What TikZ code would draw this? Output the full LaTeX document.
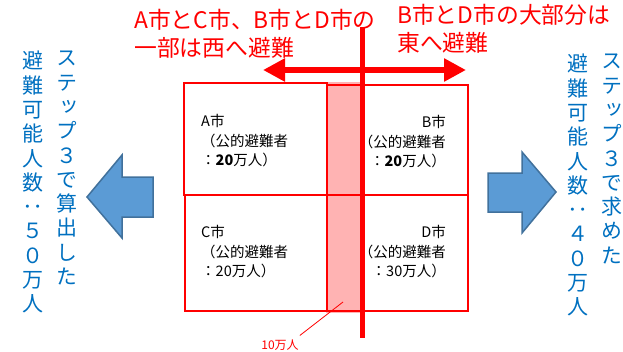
\documentclass[tikz,border=0pt]{standalone}
\usepackage{fontspec}
\setmainfont{Noto Sans CJK JP}
\newfontfamily\jpvert[RawFeature=+vert]{Noto Sans CJK JP}
\usetikzlibrary{arrows.meta, positioning, calc}
\definecolor{cred}{HTML}{FF0000}
\definecolor{cblue}{HTML}{0070C0}
\definecolor{cpink}{HTML}{FFB3B3}
\definecolor{cfill}{HTML}{5B9BD5}
\definecolor{cedge}{HTML}{41719C}
\tikzset{
  heading/.style={text=cred, font=\fontsize{22.8}{28}\selectfont, align=left, inner sep=0pt, anchor=west},
  city/.style={draw=cred, line width=2pt, anchor=north west, inner sep=0pt},
  citytext/.style={font=\fontsize{14.5}{19.5}\selectfont, inner sep=0pt},
  vcol/.style={text=cblue, font=\jpvert\fontsize{21}{24.3}\selectfont, align=center, inner sep=0pt, anchor=north},
  bigarrow/.style={draw=cedge, fill=cfill, line width=1.5pt, line join=miter},
  redline/.style={draw=cred, line width=5pt},
}

\begin{document}
\begin{tikzpicture}[x=1pt, y=-1pt]
  \useasboundingbox (0,0) rectangle (623,351);
  % headings
  \node[heading] (westNote) at (134,34) {A市とC市、B市とD市の\\一部は西へ避難};
  \node[heading] (eastNote) at (397,28.5) {B市とD市の大部分は\\東へ避難};
  % strip of the 10万人
  \fill[cpink] (326,82) rectangle (362,313);
  % cities
  \node[city, minimum width=143, minimum height=112] (boxA) at (183,82) {};
  \node[city, minimum width=141, minimum height=110] (boxB) at (326,84) {};
  \node[city, minimum width=142, minimum height=116] (boxC) at (184,194) {};
  \node[city, minimum width=141, minimum height=116] (boxD) at (326,194) {};
  \node[citytext, anchor=west, align=left] (txtA) at (201,141) {A市\\（公的避難者\\：\textbf{20}万人）};
  \node[citytext, anchor=east, align=right] (txtB) at (446,142) {B市\\（公的避難者\\：\textbf{20}万人）};
  \node[citytext, anchor=west, align=left] (txtC) at (201,252) {C市\\（公的避難者\\：20万人）};
  \node[citytext, anchor=east, align=right] (txtD) at (446,252) {D市\\（公的避難者\\：30万人）};
  % dividing line and arrow
  \coordinate (divTop) at (362,27);
  \coordinate (divBot) at (362,338);
  \coordinate (westTip) at (263,70);
  \coordinate (eastTip) at (466,70);
  \draw[redline, line width=6pt, {Triangle[length=22pt,width=22pt]}-{Triangle[length=22pt,width=22pt]}] (westTip) -- (eastTip);
  \draw[redline] (divTop) -- (divBot);
  % label of the strip
  \node[text=cred, font=\fontsize{12}{14}\selectfont, inner sep=1pt] (stripLbl) at (280,345) {10万人};
  \coordinate (stripPt) at (343,302);
  \draw[cred, line width=0.8pt] ([yshift=3pt]stripLbl.north east) -- (stripPt);
  % blue arrows
  \draw[bigarrow] (87,197) -- (122,155) -- (122,177) -- (153,177) -- (153,217) -- (122,217) -- (122,238) -- cycle;
  \draw[bigarrow] (556,192) -- (522,152) -- (522,173) -- (488,173) -- (488,212) -- (522,212) -- (522,233) -- cycle;
  % vertical notes
  \node[vcol] (stepL) at (67,51) {ス\\テ\\ッ\\プ\\３\\で\\算\\出\\し\\た};
  \node[vcol] (numL) at (33,51) {避\\難\\可\\能\\人\\数\\：\\５\\０\\万\\人};
  \node[vcol] (stepR) at (612,54) {ス\\テ\\ッ\\プ\\３\\で\\求\\め\\た};
  \node[vcol] (numR) at (578,54) {避\\難\\可\\能\\人\\数\\：\\４\\０\\万\\人};
\end{tikzpicture}
\end{document}
